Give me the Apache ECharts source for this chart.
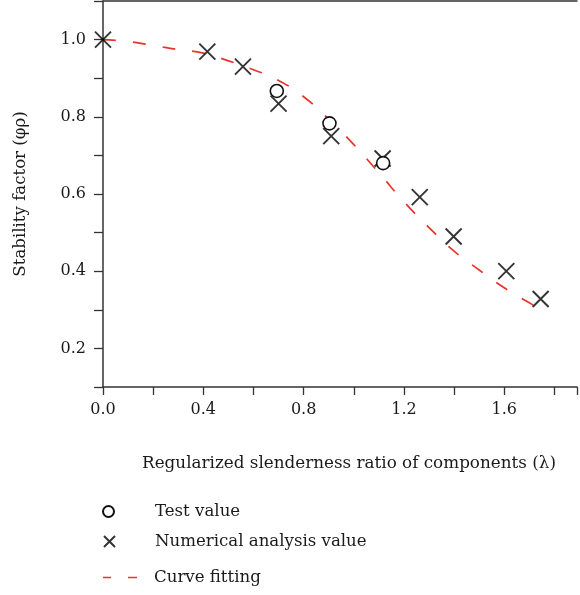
<!DOCTYPE html>
<html>
<head>
<meta charset="utf-8">
<script src="https://cdn.jsdelivr.net/npm/echarts@6/dist/echarts.min.js"></script>
<style>
  html, body { margin: 0; padding: 0; background: #fff; }
  #chart { width: 580px; height: 595px; }
</style>
</head>
<body>
<div id="chart"></div>
<script>
// test results (circles)
const testX = [0.693, 0.903, 1.117]
const testY = [0.867, 0.783, 0.680]

// numerical analysis (crosses)
const numX = [0, 0.416, 0.558, 0.70, 0.91, 1.115, 1.263, 1.398, 1.608, 1.745]
const numY = [1.0, 0.969, 0.930, 0.834, 0.750, 0.692, 0.592, 0.490, 0.400, 0.328]

// fitted curve
const fitX = [0, 0.1, 0.2, 0.3, 0.4, 0.5, 0.6, 0.7, 0.8, 0.9, 1.0, 1.1, 1.2, 1.3, 1.4, 1.5, 1.6, 1.7, 1.74]
const fitY = [1.0, 0.995, 0.985, 0.974, 0.965, 0.945, 0.922, 0.894, 0.852, 0.794, 0.728, 0.655, 0.58, 0.513, 0.452, 0.403, 0.357, 0.318, 0.303]

const font = 'DejaVu Serif'
const ink = '#1a1a1a'
const red = '#e8352a'
const crossPath = 'path://M0,0L10,10M10,0L0,10'
const dashPath = 'path://M0,0h8v1.6h-8zM25,0h9v1.6h-9z'

const zip = (xs, ys) => xs.map((x, i) => [x, ys[i]])

const myChart = echarts.init(document.getElementById('chart'))

const legendText = (gap) => ({
  fontFamily: font,
  fontSize: 16.6,
  color: ink,
  padding: [0, 0, 0, gap],
})

const option = {
  animation: false,
  textStyle: { fontFamily: font, color: ink },
  grid: { left: 103, top: 1, right: 0, bottom: 208 },
  legend: [
    {
      data: [{ name: 'Test value', icon: 'circle' }],
      left: 102, top: 503, padding: 0, itemWidth: 11, itemHeight: 11,
      textStyle: legendText(36),
    },
    {
      data: [{ name: 'Numerical analysis value', icon: crossPath }],
      left: 103, top: 533, padding: 0, itemWidth: 11, itemHeight: 11,
      textStyle: legendText(35),
    },
    {
      data: [{ name: 'Curve fitting', icon: dashPath }],
      left: 103, top: 569, padding: 0, itemWidth: 34, itemHeight: 2,
      itemStyle: { color: red },
      textStyle: legendText(12),
    },
  ],
  xAxis: [
    {
      type: 'value',
      min: 0,
      max: 1.89,
      interval: 0.2,
      name: 'Regularized slenderness ratio of components (λ)',
      nameLocation: 'middle',
      nameGap: 68,
      nameTextStyle: { fontFamily: font, fontSize: 16.8, color: ink, padding: [0, 0, 0, 18] },
      axisLine: { lineStyle: { color: '#333', width: 1.5 } },
      axisTick: { inside: false, length: 8, lineStyle: { color: '#333', width: 1.3 } },
      axisLabel: {
        margin: 15,
        fontSize: 16,
        color: ink,
        fontFamily: font,
        formatter: (v) => (Math.round(v * 10) % 4 === 0 ? v.toFixed(1) : ''),
      },
      splitLine: { show: false },
    },
    {
      type: 'value',
      position: 'top',
      min: 0,
      max: 1.89,
      axisLine: { show: true, onZero: false, lineStyle: { color: '#333', width: 1.5 } },
      axisTick: { show: false },
      axisLabel: { show: false },
      splitLine: { show: false },
    },
  ],
  yAxis: {
    type: 'value',
    min: 0.1,
    max: 1.1,
    interval: 0.1,
    name: 'Stability factor (φρ)',
    nameLocation: 'middle',
    nameGap: 74,
    nameTextStyle: { fontFamily: font, fontSize: 16.6, color: ink },
    axisLine: { show: true, lineStyle: { color: '#333', width: 1.5 } },
    axisTick: { show: true, inside: false, length: 9, lineStyle: { color: '#333', width: 1.3 } },
    axisLabel: {
      margin: 17,
      fontSize: 16,
      color: ink,
      fontFamily: font,
      formatter: (v) => (Math.round(v * 10) % 2 === 0 ? v.toFixed(1) : ''),
    },
    splitLine: { show: false },
  },
  series: [
    {
      name: 'Curve fitting',
      type: 'line',
      smooth: true,
      symbol: 'none',
      data: zip(fitX, fitY),
      lineStyle: { color: red, width: 1.7, type: [13, 17] },
      itemStyle: { color: red },
      z: 2,
    },
    {
      name: 'Numerical analysis value',
      type: 'scatter',
      symbol: crossPath,
      symbolSize: 16,
      data: zip(numX, numY),
      itemStyle: { color: '#000', borderColor: '#000', borderWidth: 1.9 },
      z: 3,
    },
    {
      name: 'Test value',
      type: 'scatter',
      symbol: 'circle',
      symbolSize: 13,
      data: zip(testX, testY),
      itemStyle: { color: '#fff', borderColor: '#111', borderWidth: 1.6, opacity: 1 },
      z: 4,
    },
  ],
}

myChart.setOption(option)
window.addEventListener('resize', () => myChart.resize())
</script>
</body>
</html>
